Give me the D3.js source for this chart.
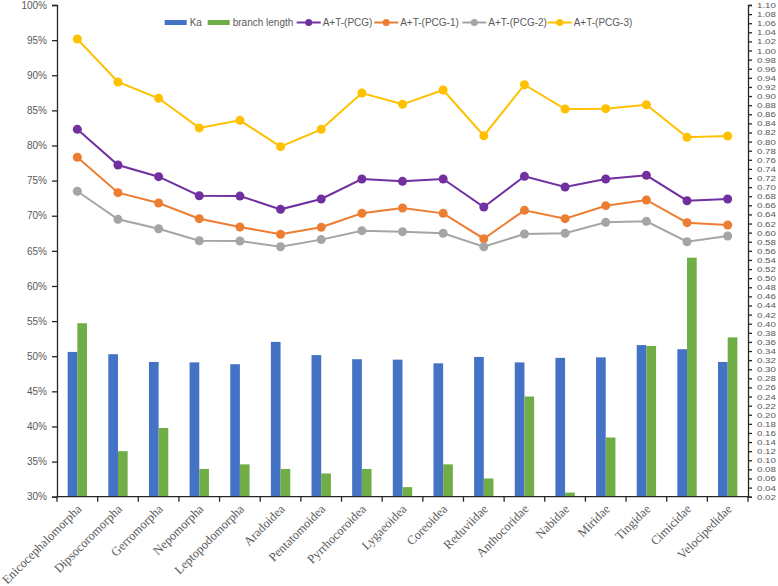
<!DOCTYPE html>
<html>
<head>
<meta charset="utf-8">
<script src="https://cdn.jsdelivr.net/npm/d3@7"></script>
<style>
    body { margin: 0; background: #fff; }
    svg { display: block; }
    .tick-label { font-family: "Liberation Sans", Arial, sans-serif; font-size: 10px; fill: #595959; }
    .right-label { font-size: 7.8px; }
    .cat-label { font-family: "Liberation Serif", "Times New Roman", serif; font-size: 12.5px; fill: #595959; }
    .legend-label { font-family: "Liberation Sans", Arial, sans-serif; font-size: 10px; fill: #595959; }
</style>
</head>
<body>
<div id="chart"></div>
<script>
"use strict";

// data
const categories = [
    "Enicocephalomorpha", "Dipsocoromorpha", "Gerromorpha", "Nepomorpha",
    "Leptopodomorpha", "Aradoidea", "Pentatomoidea", "Pyrrhocoroidea",
    "Lygaeoidea", "Coreoidea", "Reduviidae", "Anthocoridae", "Nabidae",
    "Miridae", "Tingidae", "Cimicidae", "Velocipedidae"
];
const ka = [0.338, 0.333, 0.316, 0.315, 0.311, 0.360, 0.331, 0.322, 0.321, 0.313, 0.327, 0.315, 0.325, 0.326, 0.353, 0.344, 0.316];
const branchLength = [0.401, 0.120, 0.171, 0.081, 0.091, 0.081, 0.071, 0.081, 0.041, 0.091, 0.060, 0.240, 0.029, 0.150, 0.351, 0.545, 0.370];
const atPcg = [82.3, 77.22, 75.56, 72.85, 72.8, 70.91, 72.38, 75.23, 74.9, 75.23, 71.24, 75.61, 74.09, 75.23, 75.75, 72.14, 72.38];
const atPcg1 = [78.32, 73.28, 71.81, 69.58, 68.4, 67.35, 68.35, 70.34, 71.1, 70.34, 66.73, 70.77, 69.58, 71.43, 72.24, 69.01, 68.68];
const atPcg2 = [73.48, 69.49, 68.15, 66.44, 66.4, 65.59, 66.6, 67.87, 67.73, 67.5, 65.59, 67.4, 67.5, 69.06, 69.2, 66.3, 67.11];
const atPcg3 = [95.16, 89.04, 86.72, 82.5, 83.58, 79.83, 82.3, 87.47, 85.86, 87.9, 81.39, 88.65, 85.19, 85.24, 85.8, 81.16, 81.35];

const leftTicks = d3.range(30, 101, 5);
const rightTicks = d3.range(1, 56).map((i) => +(i * 0.02).toFixed(2));

const barSeries = [
    { name: "Ka", values: ka, color: "#4472C4" },
    { name: "branch length", values: branchLength, color: "#70AD47" }
];
const lineSeries = [
    { name: "A+T-(PCG)", values: atPcg, color: "#7030A0" },
    { name: "A+T-(PCG-1)", values: atPcg1, color: "#ED7D31" },
    { name: "A+T-(PCG-2)", values: atPcg2, color: "#A5A5A5" },
    { name: "A+T-(PCG-3)", values: atPcg3, color: "#FFC000" }
];

const width = 778;
const height = 586;
const plot = { left: 57, right: 748, top: 5, bottom: 496.7 };
const axisColor = "#262626";

const svg = d3.select("#chart")
    .append("svg")
    .attr("width", width)
    .attr("height", height);

const x0 = d3.scaleBand()
    .domain(categories)
    .range([plot.left, plot.right]);
const x1 = d3.scaleBand()
    .domain(barSeries.map((s) => s.name))
    .range([0, x0.bandwidth()])
    .paddingOuter(1.1);
const yLeft = d3.scaleLinear().domain([30, 100]).range([plot.bottom, plot.top]);
const yRight = d3.scaleLinear().domain([0.02, 1.10]).range([plot.bottom, plot.top]);

/**
 * Styles an axis group: dark domain line and ticks, grey labels.
 *
 * @param {object} g - d3 selection of axis group
 * @returns {undefined} - returns nothing
 */
const styleAxis = (g) => {
    g.select(".domain").attr("stroke", axisColor).attr("stroke-width", 1.3);
    g.selectAll(".tick line").attr("stroke", axisColor).attr("stroke-width", 1.3);
    g.selectAll(".tick text").attr("class", "tick-label").attr("font-family", null).attr("font-size", null);
};

// bars (drawn first so the lines sit on top)
barSeries.forEach((series) => {
    svg.append("g")
        .selectAll("rect")
        .data(series.values)
        .join("rect")
        .attr("x", (d, i) => x0(categories[i]) + x1(series.name))
        .attr("y", (d) => yRight(d))
        .attr("width", x1.bandwidth())
        .attr("height", (d) => plot.bottom - yRight(d))
        .attr("fill", series.color);
});

// left axis
svg.append("g")
    .attr("transform", `translate(${plot.left},0)`)
    .call(d3.axisLeft(yLeft).tickValues(leftTicks).tickSize(5).tickSizeOuter(5).tickPadding(5)
        .tickFormat((d) => `${d}%`))
    .call(styleAxis);

// right axis: labels are packed tight, so a small font stretched sideways
svg.append("g")
    .attr("transform", `translate(${plot.right},0)`)
    .call(d3.axisRight(yRight).tickValues(rightTicks).tickSize(4).tickSizeOuter(4).tickPadding(5)
        .tickFormat(d3.format(".2f")))
    .call(styleAxis)
    .selectAll(".tick text")
    .classed("right-label", true)
    .attr("x", null)
    .attr("transform", "translate(9,0) scale(1.25,1)");

// category axis: ticks on band boundaries
const xAxis = svg.append("g").attr("transform", `translate(0,${plot.bottom})`);
xAxis.append("line")
    .attr("x1", plot.left)
    .attr("x2", plot.right)
    .attr("stroke", axisColor)
    .attr("stroke-width", 1.3);
xAxis.selectAll(".cat-tick")
    .data(categories.concat([null]))
    .join("line")
    .attr("class", "cat-tick")
    .attr("x1", (d) => (d === null ? plot.right : x0(d)))
    .attr("x2", (d) => (d === null ? plot.right : x0(d)))
    .attr("y1", 0)
    .attr("y2", 5)
    .attr("stroke", axisColor)
    .attr("stroke-width", 1.3);
xAxis.selectAll(".cat-label")
    .data(categories)
    .join("text")
    .attr("class", "cat-label")
    .attr("text-anchor", "end")
    .attr("transform", (d) => `translate(${x0(d) + x0.bandwidth() / 2 + 5},${13}) rotate(-45)`)
    .text((d) => d);

// lines with markers
const cx = (i) => x0(categories[i]) + x0.bandwidth() / 2;
lineSeries.forEach((series) => {
    const line = d3.line()
        .x((d, i) => cx(i))
        .y((d) => yLeft(d));
    const g = svg.append("g");
    g.append("path")
        .datum(series.values)
        .attr("d", line)
        .attr("fill", "none")
        .attr("stroke", series.color)
        .attr("stroke-width", 2);
    g.selectAll("circle")
        .data(series.values)
        .join("circle")
        .attr("cx", (d, i) => cx(i))
        .attr("cy", (d) => yLeft(d))
        .attr("r", 4.5)
        .attr("fill", series.color);
});

// legend
const legendY = 22.5;
const legend = svg.append("g");
const legendItems = [
    { s: barSeries[0], kind: "bar", x: 164.7 },
    { s: barSeries[1], kind: "bar", x: 207.7 },
    { s: lineSeries[0], kind: "line", x: 296.7 },
    { s: lineSeries[1], kind: "line", x: 374.2 },
    { s: lineSeries[2], kind: "line", x: 462.3 },
    { s: lineSeries[3], kind: "line", x: 547.7 }
];
legendItems.forEach((item) => {
    const g = legend.append("g").attr("transform", `translate(${item.x},${legendY})`);
    if (item.kind === "bar") {
        g.append("rect")
            .attr("y", -2.5)
            .attr("width", 22)
            .attr("height", 5)
            .attr("fill", item.s.color);
    } else {
        g.append("line")
            .attr("x2", 24)
            .attr("stroke", item.s.color)
            .attr("stroke-width", 2);
        g.append("circle")
            .attr("cx", 12)
            .attr("r", 3.5)
            .attr("fill", item.s.color);
    }
    g.append("text")
        .attr("class", "legend-label")
        .attr("x", item.kind === "bar" ? 25 : 26)
        .attr("dy", "0.35em")
        .text(item.s.name);
});
</script>
</body>
</html>
